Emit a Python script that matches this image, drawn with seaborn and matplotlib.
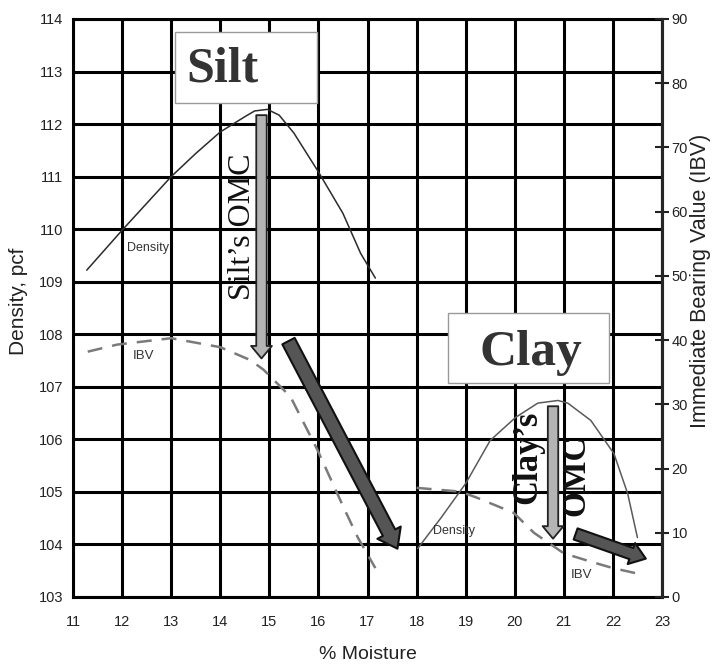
import matplotlib
matplotlib.use("Agg")
import matplotlib.pyplot as plt
import seaborn as sns
import pandas as pd
from matplotlib import font_manager
from matplotlib.patches import FancyArrowPatch, Rectangle, ArrowStyle

# ---- data ----
silt_moisture = [11.28, 12.0, 12.5, 13.0, 13.5, 14.0, 14.5, 14.7, 14.96, 15.2, 15.5, 16.0, 16.5, 16.86, 17.16]
silt_density = [109.22, 109.98, 110.49, 111.0, 111.44, 111.85, 112.14, 112.25, 112.28, 112.17, 111.83, 111.09, 110.3, 109.54, 109.07]

silt_ibv_moisture = [11.3, 11.9, 13.0, 14.0, 14.61, 14.88, 15.43, 15.98, 16.51, 16.8, 17.16]
silt_ibv = [38.2, 39.3, 40.3, 38.9, 36.9, 35.4, 31.2, 22.9, 14.0, 9.3, 4.5]

clay_moisture = [18.02, 18.5, 19.0, 19.5, 20.02, 20.47, 20.88, 21.08, 21.55, 22.02, 22.3, 22.5]
clay_density = [103.92, 104.51, 105.16, 105.98, 106.42, 106.69, 106.74, 106.69, 106.36, 105.73, 104.97, 104.13]

clay_ibv_moisture = [18.0, 18.9, 19.25, 19.98, 20.39, 21.0, 21.55, 22.0, 22.47]
clay_ibv = [17.0, 16.4, 15.4, 13.1, 10.0, 6.8, 5.5, 4.5, 3.7]

x_ticks = list(range(11, 24))
density_ticks = list(range(103, 115))
ibv_ticks = list(range(0, 91, 10))

# ---- styling ----
sns.set_style("white")
names = {f.name for f in font_manager.fontManager.ttflist}
tick_family = ["Liberation Sans Narrow", "Liberation Sans"] if "Liberation Sans Narrow" in names else ["Liberation Sans"]
plt.rcParams["font.family"] = ["Liberation Sans", "DejaVu Sans"]

fig = plt.figure(figsize=(7.12, 6.64), dpi=100)
ax = fig.add_axes([73 / 712, 1 - 597 / 664, (662 - 73) / 712, (597 - 19) / 664])
ax2 = ax.twinx()

# grid
ax.set_xlim(11, 23)
ax.set_ylim(103, 114)
ax.set_xticks(x_ticks)
ax.set_yticks(density_ticks)
ax.grid(True, color="black", linewidth=2.2, zorder=0)
ax.set_axisbelow(True)
for s in ax.spines.values():
    s.set_color("black")
    s.set_linewidth(2.2)
ax2.spines["right"].set_linewidth(2.2)
for s in ["left", "top", "bottom"]:
    ax2.spines[s].set_visible(False)

# density curves (left axis)
df_silt = pd.DataFrame({"m": silt_moisture, "d": silt_density})
df_clay = pd.DataFrame({"m": clay_moisture, "d": clay_density})
sns.lineplot(data=df_silt, x="m", y="d", ax=ax, color="#2b2b2b", linewidth=1.1, estimator=None, sort=False, zorder=3)
sns.lineplot(data=df_clay, x="m", y="d", ax=ax, color="#5a5a5a", linewidth=1.1, estimator=None, sort=False, zorder=3)

# IBV curves (right axis)
ax2.set_ylim(0, 90)
ax2.set_yticks(ibv_ticks)
df_silt_ibv = pd.DataFrame({"m": silt_ibv_moisture, "i": silt_ibv})
df_clay_ibv = pd.DataFrame({"m": clay_ibv_moisture, "i": clay_ibv})
sns.lineplot(data=df_silt_ibv, x="m", y="i", ax=ax2, color="#7a7a7a", linewidth=1.8, estimator=None, sort=False)
sns.lineplot(data=df_clay_ibv, x="m", y="i", ax=ax2, color="#7a7a7a", linewidth=1.8, estimator=None, sort=False)
for ln in ax2.lines:
    ln.set_dashes((6, 4))

# ticks and labels
ax.tick_params(axis="both", length=0, labelsize=10.5, colors="#222222")
ax.tick_params(axis="y", pad=7)
ax.tick_params(axis="x", pad=13)
ax2.tick_params(axis="y", direction="inout", length=10, width=1.5, labelsize=10.5, colors="#222222", pad=2)
for lab in ax.get_xticklabels() + ax.get_yticklabels() + ax2.get_yticklabels():
    lab.set_family(tick_family)

ax.set_xlabel("% Moisture", fontsize=14, color="#222222")
ax.xaxis.label.set_va("center")
ax.xaxis.set_label_coords(0.5, -0.100)

ax.set_ylabel("Density, pcf", fontsize=15, color="#222222")
ax.yaxis.label.set_va("center")
ax.yaxis.label.set_ha("center")
ax.yaxis.set_label_coords(-0.092, 0.512)

ax2.set_ylabel("Immediate Bearing Value (IBV)", fontsize=15.5, color="#222222")
ax2.yaxis.label.set_va("center")
ax2.yaxis.label.set_ha("center")
ax2.yaxis.set_label_coords(1.066, 0.547)

T = ax.transData

# curve labels
ax2.text(12.1, 109.64, "Density", transform=T, fontsize=9, va="center", ha="left", color="#333333")
ax2.text(12.22, 107.58, "IBV", transform=T, fontsize=9.5, va="center", ha="left", color="#333333")
ax2.text(18.33, 104.25, "Density", transform=T, fontsize=9, va="center", ha="left", color="#333333")
ax2.text(21.14, 103.41, "IBV", transform=T, fontsize=9.5, va="center", ha="left", color="#333333")

# Silt / Clay title boxes
ax2.add_patch(Rectangle((13.08, 112.4), 15.98 - 13.08, 113.75 - 112.4, transform=T,
                        facecolor="white", edgecolor="#9a9a9a", linewidth=1.0, zorder=4))
ax2.text(14.04, 113.03, "Silt", transform=T, fontsize=36, fontweight="bold", family="Liberation Serif",
         ha="center", va="center", color="#333333", zorder=5)
ax2.add_patch(Rectangle((18.65, 107.07), 21.92 - 18.65, 108.4 - 107.07, transform=T,
                        facecolor="white", edgecolor="#9a9a9a", linewidth=1.0, zorder=4))
ax2.text(20.33, 107.64, "Clay", transform=T, fontsize=37, fontweight="bold", family="Liberation Serif",
         ha="center", va="center", color="#333333", zorder=5)

# OMC markers
ax2.text(14.45, 110.04, "Silt\u2019s OMC", transform=T, fontsize=23, family="Liberation Serif",
         rotation=90, ha="center", va="center", color="#111111", zorder=5)
ax2.text(20.27, 105.66, "Clay\u2019s", transform=T, fontsize=25, family="Liberation Serif", fontweight="bold",
         rotation=90, ha="center", va="center", color="#111111", zorder=5)
ax2.text(21.24, 105.31, "OMC", transform=T, fontsize=24, family="Liberation Serif", fontweight="bold",
         rotation=90, ha="center", va="center", color="#111111", zorder=5)

omc_style = ArrowStyle.Simple(head_length=9, head_width=15, tail_width=7.5)
ax2.add_patch(FancyArrowPatch((14.84, 112.17), (14.84, 107.54), transform=T, arrowstyle=omc_style,
                              mutation_scale=1, shrinkA=0, shrinkB=0, facecolor="#b4b4b4",
                              edgecolor="#222222", linewidth=1.3, zorder=6))
ax2.add_patch(FancyArrowPatch((20.78, 106.63), (20.78, 104.11), transform=T, arrowstyle=omc_style,
                              mutation_scale=1, shrinkA=0, shrinkB=0, facecolor="#b4b4b4",
                              edgecolor="#222222", linewidth=1.3, zorder=6))

big_style = ArrowStyle.Simple(head_length=13, head_width=19, tail_width=10)
ax2.add_patch(FancyArrowPatch((15.39, 107.87), (17.61, 103.92), transform=T, arrowstyle=big_style,
                              mutation_scale=1, shrinkA=0, shrinkB=0, facecolor="#555555",
                              edgecolor="#111111", linewidth=1.5, zorder=6))
small_style = ArrowStyle.Simple(head_length=11, head_width=16, tail_width=8.5)
ax2.add_patch(FancyArrowPatch((21.24, 104.2), (22.67, 103.73), transform=T, arrowstyle=small_style,
                              mutation_scale=1, shrinkA=0, shrinkB=0, facecolor="#555555",
                              edgecolor="#111111", linewidth=1.5, zorder=6))

fig.savefig("out.png", dpi=100)
